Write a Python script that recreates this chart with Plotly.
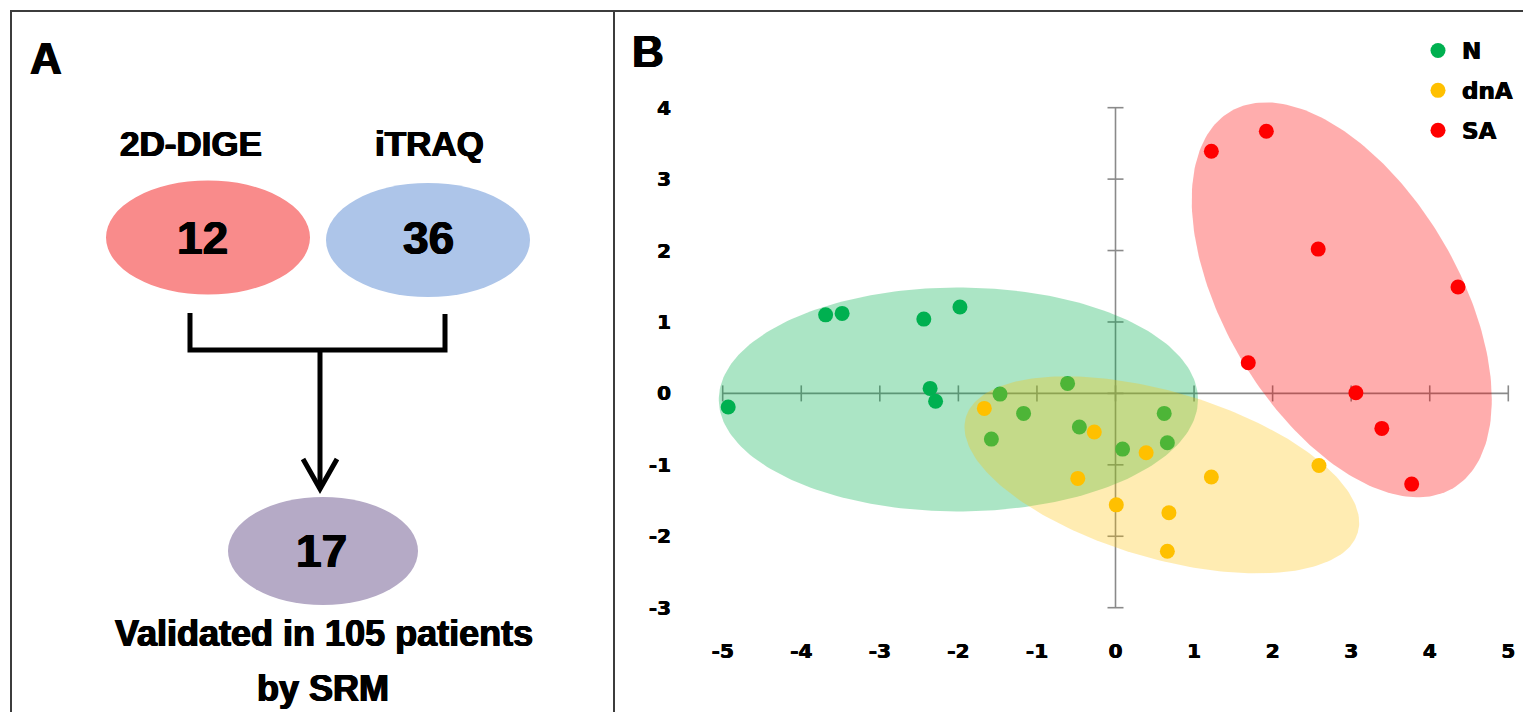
import numpy as np
import plotly.graph_objects as go

W, H = 1523, 712

# ---------------- Panel A data ----------------
method_names = ["2D-DIGE", "iTRAQ"]
method_counts = [12, 36]
validated_count = 17
validation_lines = ["Validated in 105 patients", "by SRM"]

# ---------------- Panel B data ----------------
group_names = ["N", "dnA", "SA"]
n_x = [-4.93, -3.69, -3.48, -2.44, -1.98, -2.36, -2.29, -1.47, -1.17, -1.58, -0.61, -0.46, 0.62, 0.66, 0.09]
n_y = [-0.19, 1.10, 1.12, 1.04, 1.21, 0.07, -0.11, -0.01, -0.28, -0.64, 0.14, -0.47, -0.28, -0.69, -0.78]
dna_x = [-1.67, -0.27, -0.48, 0.39, 0.01, 0.68, 1.22, 2.59, 0.66]
dna_y = [-0.21, -0.54, -1.19, -0.83, -1.56, -1.67, -1.17, -1.01, -2.21]
sa_x = [1.22, 1.92, 2.58, 4.36, 1.69, 3.06, 3.39, 3.77]
sa_y = [3.39, 3.67, 2.02, 1.49, 0.43, 0.01, -0.49, -1.27]

# group ellipses: centre (data), semi-axes in x-axis units, screen rotation (deg)
ell_cx = [-2.00, 0.59, 2.88]
ell_cy = [-0.085, -1.14, 1.31]
ell_a = [3.05, 2.60, 2.785]
ell_b = [1.425, 1.06, 1.487]
ell_angle = [0.0, 16.4, 59.4]

x_ticks = list(range(-5, 6))
y_ticks = list(range(-3, 5))
x_ticktext = [str(v) for v in x_ticks]
y_ticktext = [str(v) for v in y_ticks]

# ---------------- styles / layout ----------------
pt_colors = ["#00b050", "#ffc000", "#ff0000"]
fill_colors = ["rgba(0,176,80,0.33)", "rgba(255,192,0,0.30)", "rgba(255,0,0,0.32)"]
axis_gray = "#8a8a8a"
frame_col = "#3c3c3c"
heavy = "0.7px 0px 0px black, -0.7px 0px 0px black, 0px 0.4px 0px black"
heavy_small = "0.5px 0px 0px black, -0.4px 0px 0px black"

plot_left, plot_right, plot_top, plot_bottom = 690, 1523, 60, 630
x_range = [-5.4163, 5.1871]
y_range = [-3.3123, 4.6675]
kx = (plot_right - plot_left) / (x_range[1] - x_range[0])
ky = (plot_bottom - plot_top) / (y_range[1] - y_range[0])


def P(x, y):
    return x / W, 1 - y / H


fig = go.Figure()

# axis lines with crossing ticks
tl_x = 8 / ky
tl_y = 8 / kx
ax_x, ax_y = [x_ticks[0], x_ticks[-1], None, 0, 0, None], [0, 0, None, y_ticks[0], y_ticks[-1], None]
for t in x_ticks:
    ax_x += [t, t, None]
    ax_y += [-tl_x, tl_x, None]
for t in y_ticks:
    ax_x += [-tl_y, tl_y, None]
    ax_y += [t, t, None]
fig.add_trace(go.Scatter(x=ax_x, y=ax_y, mode="lines", line=dict(color=axis_gray, width=1.6),
                         showlegend=False, hoverinfo="skip"))

xs = [n_x, dna_x, sa_x]
ys = [n_y, dna_y, sa_y]
phi = np.linspace(0, 2 * np.pi, 240)
for i, name in enumerate(group_names):
    th = np.radians(ell_angle[i])
    dx = ell_a[i] * np.cos(phi) * np.cos(th) - ell_b[i] * np.sin(phi) * np.sin(th)
    dy = ell_a[i] * np.cos(phi) * np.sin(th) + ell_b[i] * np.sin(phi) * np.cos(th)
    ex = ell_cx[i] + dx
    ey = ell_cy[i] - dy * kx / ky
    fig.add_trace(go.Scatter(x=ex, y=ey, mode="lines", fill="toself", fillcolor=fill_colors[i],
                             line=dict(width=0), showlegend=False, hoverinfo="skip"))
    fig.add_trace(go.Scatter(x=xs[i], y=ys[i], mode="markers", name=name, legendgroup=name,
                             marker=dict(color=pt_colors[i], size=15, line=dict(width=0))))

# ---------------- Panel A shapes ----------------
shapes = []
for (x0, y0, x1, y1) in [(10, 11, W, 11), (11, 11, 11, H), (614, 11, 614, H)]:
    a0, b0 = P(x0, y0)
    a1, b1 = P(x1, y1)
    shapes.append(dict(type="line", xref="paper", yref="paper", x0=a0, y0=b0, x1=a1, y1=b1,
                       line=dict(color=frame_col, width=2)))

a_ell_cx = [208, 428]
a_ell_cy = [237.5, 240]
a_ell_col = ["#f98b8b", "#adc5e9"]
for i in range(2):
    x0, y0 = P(a_ell_cx[i] - 102, a_ell_cy[i] - 57)
    x1, y1 = P(a_ell_cx[i] + 102, a_ell_cy[i] + 57)
    shapes.append(dict(type="circle", xref="paper", yref="paper", x0=x0, y0=y0, x1=x1, y1=y1,
                       fillcolor=a_ell_col[i], line=dict(width=0), layer="below"))
x0, y0 = P(323 - 95, 551 - 54)
x1, y1 = P(323 + 95, 551 + 54)
shapes.append(dict(type="circle", xref="paper", yref="paper", x0=x0, y0=y0, x1=x1, y1=y1,
                   fillcolor="#b5aac6", line=dict(width=0), layer="below"))


def path(pts):
    s = ""
    for k, (x, y) in enumerate(pts):
        px, py = P(x, y)
        s += ("M" if k == 0 else " L") + f" {px:.5f},{py:.5f}"
    return s


shapes.append(dict(type="path", xref="paper", yref="paper",
                   path=path([(190, 313), (190, 350), (445, 350), (445, 314)]),
                   line=dict(color="black", width=5)))
shapes.append(dict(type="path", xref="paper", yref="paper",
                   path=path([(320, 350), (320, 487)]), line=dict(color="black", width=5)))
shapes.append(dict(type="path", xref="paper", yref="paper",
                   path=path([(303, 459), (320, 489), (337, 459)]), line=dict(color="black", width=5)))

ann = []
txt_font = "Liberation Sans, Arial, sans-serif"


def add_text(text, x, y, size, family=txt_font):
    px, py = P(x, y)
    ann.append(dict(text=f"<b>{text}</b>", x=px, y=py, xref="paper", yref="paper",
                    showarrow=False, xanchor="center", yanchor="middle",
                    font=dict(family=family, size=size, color="black", shadow=heavy)))


add_text("A", 46, 58, 44)
add_text("B", 648, 51, 44)
label_x = [191, 429]
for i in range(2):
    add_text(method_names[i], label_x[i], 143, 35)
    add_text(str(method_counts[i]), [202, 428][i], 238, 46)
add_text(str(validated_count), 321, 551, 46)
add_text(validation_lines[0], 324, 633, 36)
add_text(validation_lines[1], 323, 688, 36)

tick_font = dict(family="DejaVu Sans", size=20, color="black", weight="bold", shadow=heavy_small)

fig.update_layout(
    width=W, height=H,
    margin=dict(l=0, r=0, t=0, b=0),
    paper_bgcolor="white", plot_bgcolor="rgba(0,0,0,0)",
    shapes=shapes, annotations=ann,
    showlegend=True,
    legend=dict(x=P(1414, 0)[0], y=P(0, 29)[1], xanchor="left", yanchor="top",
                bgcolor="rgba(0,0,0,0)", borderwidth=0, traceorder="grouped", tracegroupgap=7,
                itemwidth=38,
                font=dict(family="DejaVu Sans", size=23, color="black", weight="bold",
                          shadow=heavy_small),
                itemsizing="trace"),
    xaxis=dict(domain=[plot_left / W, plot_right / W], range=x_range, showgrid=False, zeroline=False,
               showline=False, ticks="", tickmode="array", tickvals=x_ticks, ticktext=x_ticktext,
               tickfont=tick_font, ticklabelstandoff=7, fixedrange=True),
    yaxis=dict(domain=[1 - plot_bottom / H, 1 - plot_top / H], range=y_range, showgrid=False,
               zeroline=False, showline=False, ticks="", tickmode="array", tickvals=y_ticks,
               ticktext=y_ticktext, tickfont=tick_font, ticklabelstandoff=18, fixedrange=True),
)

fig.write_html("out.html")
